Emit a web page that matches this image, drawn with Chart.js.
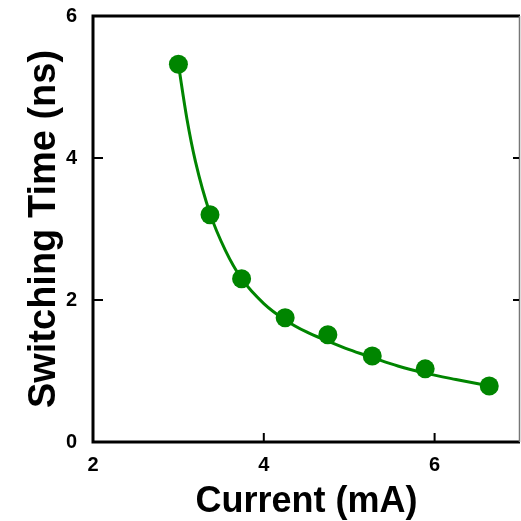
<!DOCTYPE html>
<html>
<head>
<meta charset="utf-8">
<script src="https://cdn.jsdelivr.net/npm/chart.js@4"></script>
<style>
  html, body { margin: 0; padding: 0; background: #fff; overflow: hidden; }
  canvas { display: block; }
</style>
</head>
<body>
<canvas id="grafica" width="521" height="521"></canvas>
<script>
// Datos medidos (corriente en mA, tiempo en ns)
const currentPts = [3.0, 3.37, 3.74, 4.25, 4.75, 5.27, 5.89, 6.64];
const timePts = [5.32, 3.20, 2.30, 1.75, 1.51, 1.21, 1.03, 0.79];

// Curva de ajuste
const fitX = [3.0, 3.1, 3.2, 3.37, 3.55, 3.74, 4.0, 4.25, 4.5, 4.75, 5.0, 5.27, 5.57, 5.89, 6.25, 6.64];
const fitY = [5.32, 4.55, 3.95, 3.22, 2.70, 2.30, 1.95, 1.72, 1.55, 1.42, 1.30, 1.19, 1.07, 0.97, 0.88, 0.79];

const xTicks = [2, 4, 6];
const yTicks = [0, 2, 4, 6];

const verde = "rgb(0,133,0)";
const fuente = "'Liberation Sans', Arial, sans-serif";

// Marco con marcas hacia adentro
const marco = {
  id: "marco",
  afterDraw(chart) {
    const ctx = chart.ctx;
    const a = chart.chartArea;
    const sx = chart.scales.x;
    const sy = chart.scales.y;
    ctx.save();
    ctx.strokeStyle = "#000";
    ctx.lineWidth = 3;
    ctx.beginPath();
    ctx.moveTo(a.left, a.top);
    ctx.lineTo(a.right, a.top);
    ctx.moveTo(a.left, a.top - 1.5);
    ctx.lineTo(a.left, a.bottom + 1.5);
    ctx.moveTo(a.left - 1.5, a.bottom);
    ctx.lineTo(a.right, a.bottom);
    ctx.stroke();

    ctx.strokeStyle = "#777";
    ctx.lineWidth = 1.5;
    ctx.beginPath();
    ctx.moveTo(a.right - 0.5, a.top);
    ctx.lineTo(a.right - 0.5, a.bottom);
    ctx.stroke();

    ctx.strokeStyle = "#000";
    ctx.lineWidth = 2;
    ctx.beginPath();
    yTicks.slice(1, -1).forEach((v) => {
      const y = sy.getPixelForValue(v);
      ctx.moveTo(a.left, y);
      ctx.lineTo(a.left + 10, y);
      ctx.moveTo(a.right - 7, y);
      ctx.lineTo(a.right - 1, y);
    });
    xTicks.slice(1).forEach((v) => {
      const x = sx.getPixelForValue(v);
      ctx.moveTo(x, a.bottom);
      ctx.lineTo(x, a.bottom - 9);
    });
    ctx.stroke();
    ctx.restore();
  },
};

const chartContext = document.getElementById("grafica").getContext("2d");
var grafica = new Chart(chartContext, {
  type: "scatter",
  data: {
    datasets: [
      {
        label: "Ajuste",
        data: fitX.map((x, i) => ({ x: x, y: fitY[i] })),
        showLine: true,
        borderColor: verde,
        borderWidth: 3,
        pointRadius: 0,
        cubicInterpolationMode: "monotone",
        order: 2,
      },
      {
        label: "Datos",
        data: currentPts.map((x, i) => ({ x: x, y: timePts[i] })),
        backgroundColor: verde,
        borderColor: verde,
        pointRadius: 9.5,
        pointBorderWidth: 0,
        order: 1,
      },
    ],
  },
  options: {
    responsive: false,
    animation: false,
    layout: { autoPadding: false, padding: { left: 0, top: 16, right: 1, bottom: 0 } },
    plugins: { legend: { display: false }, tooltip: { enabled: false } },
    scales: {
      x: {
        type: "linear",
        min: 2,
        max: 7,
        grid: { display: false },
        border: { display: false },
        afterBuildTicks: (s) => { s.ticks = xTicks.map((v) => ({ value: v })); },
        afterFit: (s) => {
          s.height = 79;
          s.paddingLeft = 0;
          s.paddingRight = 0;
        },
        ticks: {
          color: "#000",
          padding: 3,
          font: { family: fuente, size: 20, weight: "bold" },
        },
        title: {
          display: true,
          text: "Current (mA)",
          color: "#000",
          padding: { top: 0, bottom: -3 },
          font: { family: fuente, size: 36, weight: "bold" },
        },
      },
      y: {
        type: "linear",
        min: 0,
        max: 6,
        grid: { display: false },
        border: { display: false },
        afterBuildTicks: (s) => { s.ticks = yTicks.map((v) => ({ value: v })); },
        afterFit: (s) => {
          s.width = 93;
          s.paddingTop = 0;
          s.paddingBottom = 0;
        },
        ticks: {
          color: "#000",
          padding: 8,
          font: { family: fuente, size: 20, weight: "bold" },
        },
        title: {
          display: true,
          text: "Switching Time (ns)",
          color: "#000",
          padding: { top: 22, bottom: 0 },
          font: { family: fuente, size: 38, weight: "bold" },
        },
      },
    },
  },
  plugins: [marco],
});
</script>
</body>
</html>
